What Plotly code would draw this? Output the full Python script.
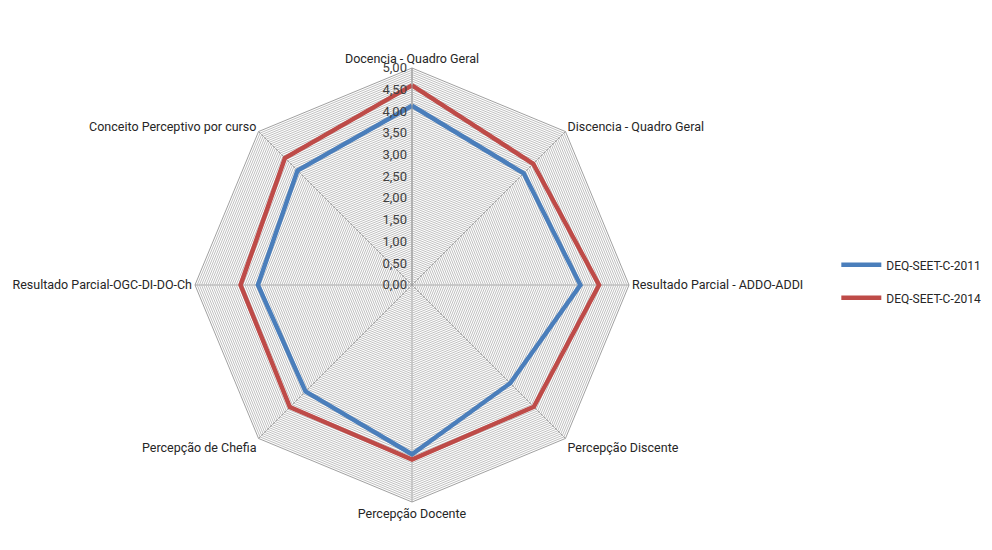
import plotly.graph_objects as go

categories = [
    "Docencia - Quadro Geral",
    "Discencia - Quadro Geral",
    "Resultado Parcial - ADDO-ADDI",
    "Percepção Discente",
    "Percepção Docente",
    "Percepção de Chefia",
    "Resultado Parcial-OGC-DI-DO-Ch",
    "Conceito Perceptivo por curso",
]
series_2011 = [4.13, 3.64, 3.88, 3.20, 3.90, 3.47, 3.55, 3.73]
series_2014 = [4.60, 3.95, 4.31, 3.97, 4.02, 3.98, 3.95, 4.14]
series_names = ["DEQ-SEET-C-2011", "DEQ-SEET-C-2014"]
grid_vals = [round(i * 0.05, 2) for i in range(0, 101)]
major_labels = {round(i * 0.5, 2): f"{i * 0.5:.2f}".replace(".", ",") for i in range(0, 11)}
tick_text = [major_labels.get(v, "") for v in grid_vals]

FONT = "Roboto, sans-serif"

fig = go.Figure()
for name, vals, color, grp in [(series_names[0], series_2011, "#4A7EBB", "a"),
                               (series_names[1], series_2014, "#BE4B48", "b")]:
    fig.add_trace(go.Scatterpolar(
        r=vals + vals[:1],
        theta=categories + categories[:1],
        mode="lines",
        name=name,
        legendgroup=grp,
        line=dict(color=color, width=4.5),
    ))

R = 217
cx, cy = 404, 277
W, H = 992, 550
fig.update_layout(
    width=W, height=H,
    margin=dict(l=0, r=0, t=0, b=0),
    paper_bgcolor="white",
    plot_bgcolor="white",
    font=dict(family=FONT, size=12.5, color="#262626"),
    polar=dict(
        domain=dict(x=[(cx - R) / W, (cx + R) / W], y=[(H - cy - R) / H, (H - cy + R) / H]),
        bgcolor="white",
        gridshape="linear",
        radialaxis=dict(
            range=[0, 5],
            tickvals=grid_vals,
            ticktext=tick_text,
            angle=90,
            tickangle=90,
            side="counterclockwise",
            showline=True,
            linecolor="#9a9a9a",
            linewidth=1,
            gridcolor="#c0c0c0",
            gridwidth=1,
            ticks="",
            tickfont=dict(size=13, color="#404040", family=FONT),
        ),
        angularaxis=dict(
            direction="clockwise",
            rotation=90,
            showline=True,
            linecolor="#a0a0a0",
            linewidth=1,
            gridcolor="#a0a0a0",
            gridwidth=1,
            ticks="",
            tickfont=dict(size=12.5, color="#262626", family=FONT),
        ),
    ),
    legend=dict(
        x=0.835, y=0.503, xanchor="left", yanchor="middle",
        font=dict(size=12, color="#262626", family=FONT),
        tracegroupgap=14,
        itemwidth=40,
    ),
)

fig.write_html("out.html")
